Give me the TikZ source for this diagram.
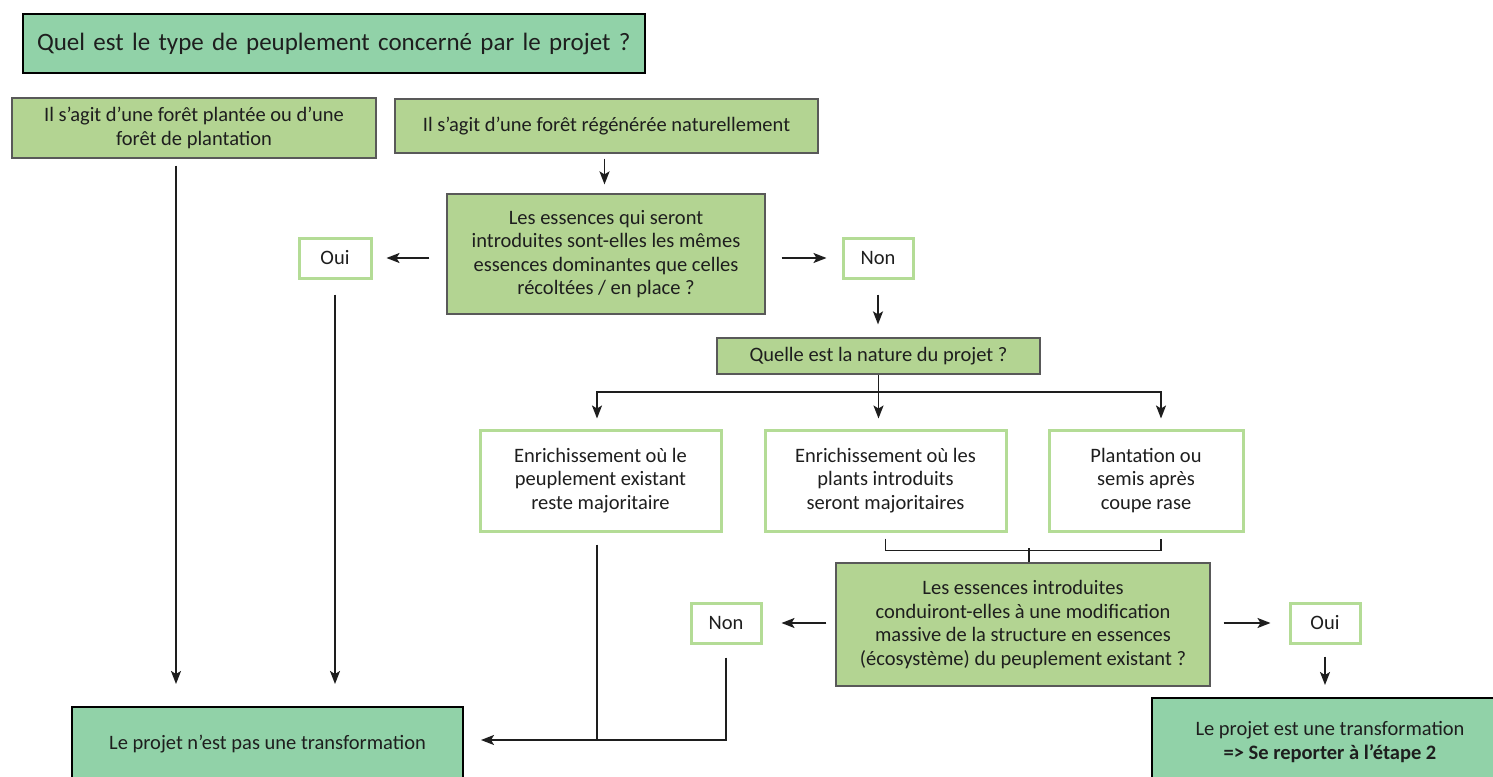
\documentclass[tikz,border=0pt]{standalone}
\usepackage{fontspec}
\setmainfont{Carlito}
\usetikzlibrary{arrows.meta}
\definecolor{mint}{RGB}{145,210,168}
\definecolor{olive}{RGB}{179,212,146}
\definecolor{lgreen}{RGB}{180,220,150}
\definecolor{ink}{RGB}{30,30,30}
\begin{document}
\begin{tikzpicture}[x=1pt,y=-1pt,
  every node/.style={inner sep=0pt, text=ink, font=\fontsize{20.5}{23.5}\selectfont, align=center},
  sz/.style 2 args={minimum width=#1pt, minimum height=#2pt},
  mintbox/.style={fill=mint, draw=black, line width=2pt},
  olivebox/.style={fill=olive, draw=black!65, line width=1.2pt},
  whitebox/.style={fill=white, draw=lgreen, line width=3pt},
  arr/.style={draw=ink, line width=1.7pt, -{Stealth[length=13pt,width=10pt,inset=3pt]}},
  ln/.style={draw=ink, line width=1.7pt}]
\clip (0,0) rectangle (1493,776);
\fill[white] (0,0) rectangle (1493,776);
% boxes
\node[mintbox, sz={622}{59}, text width=594pt, align=left, font=\fontsize{25}{29}\selectfont] (title) at (334,43.5) {Quel est le type de peuplement concerné par le projet ?};
\node[olivebox, sz={364}{60}] (p1) at (194,128) {Il s’agit d’une forêt plantée ou d’une\\forêt de plantation};
\node[olivebox, sz={423}{54}] (p2) at (606.5,126) {Il s’agit d’une forêt régénérée naturellement};
\node[olivebox, sz={318}{120}] (q1) at (606,254) {Les essences qui seront\\introduites sont-elles les mêmes\\essences dominantes que celles\\récoltées / en place ?};
\node[whitebox, sz={72}{40}] (oui1) at (335,258) {Oui};
\node[whitebox, sz={70}{40}] (non1) at (878,258) {Non};
\node[olivebox, sz={323}{36}] (nat) at (878.5,356) {Quelle est la nature du projet ?};
\node[whitebox, sz={241}{101}] (A) at (600.5,480.5) {Enrichissement où le\\peuplement existant\\reste majoritaire};
\node[whitebox, sz={241}{101}] (B) at (885.5,480.5) {Enrichissement où les\\plants introduits\\seront majoritaires};
\node[whitebox, sz={194}{101}] (C) at (1146,480.5) {Plantation ou\\semis après\\coupe rase};
\node[olivebox, sz={374}{123}] (q2) at (1023,624.5) {Les essences introduites\\conduiront-elles à une modification\\massive de la structure en essences\\(écosystème) du peuplement existant ?};
\node[whitebox, sz={70}{40}] (non2) at (726,623) {Non};
\node[whitebox, sz={70}{40}] (oui2) at (1325,623) {Oui};
\node[mintbox, sz={391}{74}] (bl) at (267.5,744) {Le projet n’est pas une transformation};
\node[mintbox, sz={356}{88}] (fin) at (1330,742) {Le projet est une transformation\\\textbf{=> Se reporter à l’étape 2}};
\coordinate (br) at (878.5,392);
\coordinate (j) at (597,740);
% connectors
\draw[arr, shorten <=7pt, shorten >=22pt] ([xshift=-18pt]p1.south) -- ([xshift=-18pt]p1.south |- bl.north);
\draw[arr, shorten <=5pt, shorten >=9pt] ([xshift=-2pt]p2.south) -- ([xshift=-2pt]p2.south |- q1.north);
\draw[arr, shorten <=17pt, shorten >=14pt] (q1.west |- oui1.east) -- (oui1.east);
\draw[arr, shorten <=16pt, shorten >=15pt] (q1.east |- non1.west) -- (non1.west);
\draw[arr, shorten <=15pt, shorten >=22pt] (oui1.south) -- (oui1.south |- bl.north);
\draw[arr, shorten <=15pt, shorten >=13pt] (non1.south) -- (non1.south |- nat.north);
\draw[arr, shorten >=10pt] (nat.south) -- (nat.south |- B.north);
\draw[arr, shorten >=10pt] (br) -| ([xshift=-3.5pt]A.north);
\draw[arr, shorten >=10pt] (br) -| ([xshift=15pt]C.north);
\draw[ln] ([yshift=-6pt]B.south) |- ([xshift=15pt,yshift=-18pt]C.south) -- ([xshift=15pt,yshift=-6pt]C.south);
\draw[ln] ([xshift=6pt]q2.north) -- ([xshift=6pt,yshift=14pt]q2.north);
\draw[arr, shorten <=9pt, shorten >=19pt] (q2.west |- non2.east) -- (non2.east);
\draw[arr, shorten <=13pt, shorten >=18pt] (q2.east |- oui2.west) -- (oui2.west);
\draw[arr, shorten <=12pt, shorten >=12pt] (oui2.south) -- (oui2.south |- fin.north);
\draw[arr, shorten <=13pt, shorten >=17pt] (non2.south) |- (bl.east |- j);
\draw[ln, shorten <=12pt] (A.south -| j) -- (j);
\end{tikzpicture}
\end{document}
